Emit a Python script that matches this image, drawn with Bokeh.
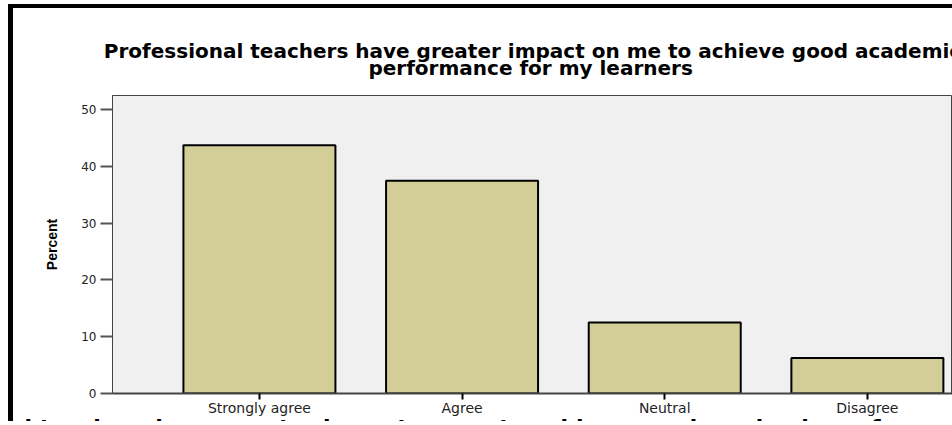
from bokeh.plotting import figure
from bokeh.models import Range1d, FixedTicker, ColumnDataSource
from bokeh.layouts import column
from bokeh.embed import file_html
from bokeh.resources import INLINE

categories = ["Strongly agree", "Agree", "Neutral", "Disagree"]
percent = [43.75, 37.5, 12.5, 6.25]
y_ticks = [0, 10, 20, 30, 40, 50]
title_line1 = "Professional teachers have greater impact on me to achieve good academic"
title_line2 = "performance for my learners"
x_title = ("Professional teachers have greater impact on me to achieve good academic "
           "performance for my learners")

xs = list(range(len(categories)))
src = ColumnDataSource(dict(x=xs, top=percent, cat=categories))

p = figure(width=939, height=442, output_backend="svg", toolbar_location=None,
           x_range=Range1d(-0.725, 3.42), y_range=Range1d(0, 52.5),
           min_border_left=99, min_border_right=0, min_border_top=87,
           min_border_bottom=57, background_fill_color="#f0f0f0",
           border_fill_color="white")

p.vbar(x="x", top="top", width=0.75, bottom=0, source=src,
       fill_color="#d3ce97", line_color="black", line_width=2)

p.grid.visible = False
p.outline_line_color = "#444444"
p.outline_line_width = 1

# two-line title; the second line is centred under the first with no-break spaces
p.title.text = title_line1 + "\n" + "\u00a0" * 38 + title_line2
p.title.align = "center"
p.title.text_font = "DejaVu Sans"
p.title.text_font_style = "bold"
p.title.text_font_size = "20px"
p.title.text_color = "black"
p.title.text_line_height = 0.74
p.title.standoff = 30

ya = p.yaxis[0]
ya.ticker = FixedTicker(ticks=y_ticks)
ya.minor_tick_line_color = None
ya.major_tick_out = 12
ya.major_tick_in = 0
ya.major_tick_line_color = "#555555"
ya.major_tick_line_width = 2
ya.axis_line_color = "#444444"
ya.major_label_text_font = "DejaVu Sans"
ya.major_label_text_font_size = "12px"
ya.major_label_text_color = "#222222"
ya.major_label_standoff = 4
ya.axis_label = "Percent"
ya.axis_label_text_font = "Liberation Sans"
ya.axis_label_text_font_style = "bold"
ya.axis_label_text_font_size = "14px"
ya.axis_label_text_color = "black"
ya.axis_label_standoff = 18

xa = p.xaxis[0]
xa.ticker = FixedTicker(ticks=xs)
xa.major_label_overrides = {i: c for i, c in zip(xs, categories)}
xa.minor_tick_line_color = None
xa.major_tick_out = 6
xa.major_tick_in = 0
xa.major_tick_line_color = "black"
xa.major_tick_line_width = 2
xa.axis_line_color = "#444444"
xa.axis_line_width = 2
xa.major_label_text_font = "DejaVu Sans"
xa.major_label_text_font_size = "14px"
xa.major_label_text_color = "#222222"
xa.major_label_standoff = 0
xa.axis_label = x_title
xa.axis_label_text_font = "DejaVu Sans"
xa.axis_label_text_font_style = "bold"
xa.axis_label_text_font_size = "22px"
xa.axis_label_text_color = "black"
xa.axis_label_standoff = -4

layout = column(p, styles={"border-left": "5px solid black",
                           "border-top": "4px solid black",
                           "margin-left": "8px", "margin-top": "4px",
                           "max-height": "417px", "overflow": "hidden"})

open("out.html", "w").write(file_html(layout, INLINE))
